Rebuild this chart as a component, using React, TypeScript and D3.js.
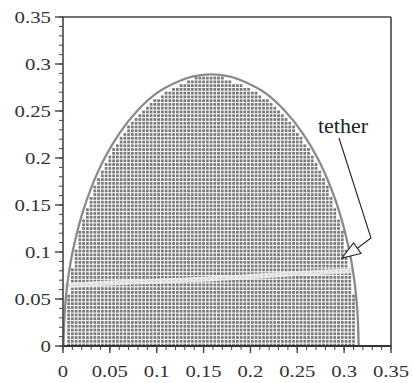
import React, { useMemo } from "react";
import * as d3 from "d3";

// outline of the working region
const outlineX = [0.0005, 0.0015, 0.003, 0.006, 0.01, 0.02, 0.03, 0.045, 0.06, 0.08, 0.1, 0.12, 0.14, 0.158, 0.176, 0.196, 0.216, 0.236, 0.256, 0.271, 0.286, 0.296, 0.306, 0.31, 0.313, 0.3145, 0.3155];
const outlineY = [0, 0.03, 0.051, 0.076, 0.099, 0.139, 0.168, 0.201, 0.226, 0.251, 0.269, 0.28, 0.287, 0.289, 0.287, 0.28, 0.269, 0.251, 0.226, 0.201, 0.168, 0.139, 0.099, 0.076, 0.051, 0.03, 0];

// boundary of the filled (meshed) area: level, left edge, right edge
const fillLevels = [0, 0.02, 0.04, 0.06, 0.08, 0.1, 0.12, 0.14, 0.16, 0.18, 0.2, 0.22, 0.24, 0.26, 0.27, 0.28, 0.287];
const fillLeft = [0.002, 0.003, 0.0045, 0.0065, 0.009, 0.013, 0.0175, 0.023, 0.03, 0.038, 0.048, 0.06, 0.075, 0.096, 0.11, 0.132, 0.143];
const fillRight = [0.314, 0.313, 0.3115, 0.3095, 0.307, 0.303, 0.2985, 0.293, 0.286, 0.278, 0.268, 0.256, 0.241, 0.22, 0.206, 0.184, 0.166];

// tether position
const tetherX = [0.0, 0.05, 0.1, 0.15, 0.2, 0.25, 0.31];
const tetherY = [0.064, 0.067, 0.069, 0.071, 0.074, 0.077, 0.08];

const majorTicks = [0, 0.05, 0.1, 0.15, 0.2, 0.25, 0.3, 0.35];
const tickLabels = ["0", "0.05", "0.1", "0.15", "0.2", "0.25", "0.3", "0.35"];
const minorTicks = d3.range(0, 36).map((i) => i / 100);

const gridStep = 0.004;

const W = 413;
const H = 383;

export default function App() {
  const x = d3.scaleLinear().domain([0, 0.35]).range([63, 391]);
  const y = d3.scaleLinear().domain([0, 0.35]).range([346, 17]);

  const cells = useMemo(() => {
    const poly: [number, number][] = [];
    fillLevels.forEach((lv, i) => poly.push([fillLeft[i], lv]));
    for (let i = fillLevels.length - 1; i >= 0; i--) poly.push([fillRight[i], fillLevels[i]]);
    const out: [number, number][] = [];
    for (let cy = 0.001; cy <= 0.29; cy += gridStep) {
      for (let cx = 0.002; cx <= 0.32; cx += gridStep) {
        if (d3.polygonContains(poly, [cx, cy])) out.push([cx, cy]);
      }
    }
    return out;
  }, []);

  const outline = d3
    .line<number>()
    .x((d, i) => x(outlineX[i]))
    .y((d, i) => y(outlineY[i]))
    .curve(d3.curveCatmullRom)(outlineX);

  const tether = d3
    .line<number>()
    .x((d, i) => x(tetherX[i]))
    .y((d, i) => y(tetherY[i]))
    .curve(d3.curveMonotoneX)(tetherX);

  const cw = x(gridStep) - x(0);
  const ch = y(0) - y(gridStep);
  const font = "'Liberation Serif', 'Times New Roman', serif";

  return (
    <div style={{ position: "fixed", left: 0, top: 0, background: "#fff" }}>
      <svg width={W} height={H}>
        <rect width={W} height={H} fill="#fff" />
        <g fill="#7a7a7a">
          {cells.map(([cx, cy], i) => (
            <rect key={i} x={x(cx) - cw * 0.37} y={y(cy) - ch * 0.37} width={cw * 0.74} height={ch * 0.74} />
          ))}
        </g>
        <path d={tether ?? ""} fill="none" stroke="#f0f0f0" strokeWidth={5} opacity={0.9} />
        <path d={tether ?? ""} fill="none" stroke="#c4c4c4" strokeWidth={1.2} strokeDasharray="2 3" opacity={0.7} />
        <path d={outline ?? ""} fill="none" stroke="#8a8a8a" strokeWidth={2.3} />

        {/* frame */}
        <line x1={x(0)} x2={x(0.35)} y1={y(0.35)} y2={y(0.35)} stroke="#444" strokeWidth={1.6} />
        <line x1={x(0.35)} x2={x(0.35)} y1={y(0)} y2={y(0.35)} stroke="#444" strokeWidth={1.6} />
        <line x1={x(0)} x2={x(0.35)} y1={y(0)} y2={y(0)} stroke="#333" strokeWidth={2} />
        <line x1={x(0)} x2={x(0)} y1={y(0)} y2={y(0.35)} stroke="#444" strokeWidth={1.6} />

        {/* ticks */}
        <g stroke="#444" strokeWidth={1}>
          {minorTicks.map((t, i) => (
            <line key={"mx" + i} x1={x(t)} x2={x(t)} y1={y(0)} y2={y(0) + 4} />
          ))}
          {minorTicks.map((t, i) => (
            <line key={"my" + i} x1={x(0) - 4} x2={x(0)} y1={y(t)} y2={y(t)} />
          ))}
          {majorTicks.map((t, i) => (
            <line key={"Mx" + i} x1={x(t)} x2={x(t)} y1={y(0)} y2={y(0) + 7} strokeWidth={1.4} />
          ))}
          {majorTicks.map((t, i) => (
            <line key={"My" + i} x1={x(0) - 8} x2={x(0)} y1={y(t)} y2={y(t)} strokeWidth={1.4} />
          ))}
        </g>

        <g fill="#333" fontFamily={font}>
          {majorTicks.map((t, i) => (
            <text
              key={"lx" + i}
              transform={`translate(${x(t)},${y(0) + 31}) scale(1.18,1)`}
              textAnchor="middle"
              fontSize={17.5}
            >
              {tickLabels[i]}
            </text>
          ))}
          {majorTicks.map((t, i) => (
            <text
              key={"ly" + i}
              transform={`translate(${x(0) - 12},${y(t) + 5.5}) scale(1.3,1)`}
              textAnchor="end"
              fontSize={16}
            >
              {tickLabels[i]}
            </text>
          ))}
        </g>

        {/* annotation */}
        <text transform="translate(318,133) scale(1.1,1)" fontFamily={font} fontSize={20} fill="#222">
          tether
        </text>
        <g stroke="#222" strokeWidth={1.1} fill="#fff">
          <polyline points="339,138 371,238 357,248.5" fill="none" />
          <polygon points="342,258 353.5,243 361,253.5" />
        </g>
      </svg>
    </div>
  );
}
